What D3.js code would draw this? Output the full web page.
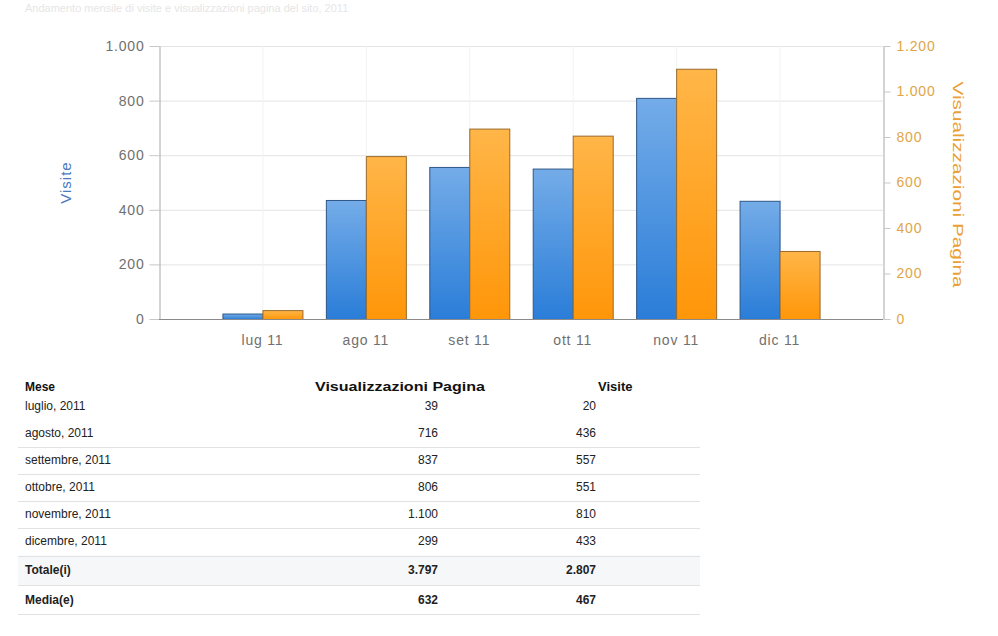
<!DOCTYPE html>
<html>
<head>
<meta charset="utf-8">
<script src="https://cdn.jsdelivr.net/npm/d3@7"></script>
<style>
  body { margin: 0; background: #fff; }
  svg { display: block; font-family: 'Liberation Sans', Arial, sans-serif; }
</style>
</head>
<body>
<div id="chart"></div>
<script>
const months = ['lug 11', 'ago 11', 'set 11', 'ott 11', 'nov 11', 'dic 11']
const monthNames = ['luglio, 2011', 'agosto, 2011', 'settembre, 2011', 'ottobre, 2011', 'novembre, 2011', 'dicembre, 2011']
const visite = [20, 436, 557, 551, 810, 433]
const pagine = [39, 716, 837, 806, 1100, 299]
const leftTicks = [0, 200, 400, 600, 800, 1000]
const rightTicks = [0, 200, 400, 600, 800, 1000, 1200]

const width = 998
const height = 636
const plot = { left: 159, right: 883, top: 46, bottom: 319 }
const blue = '#4a7cbf'
const orange = '#eaa034'

const it = d3.formatLocale({ decimal: ',', thousands: '.', grouping: [3], currency: ['€', ''] })
const fmt = it.format(',d')

const svg = d3.select('#chart').append('svg').attr('width', width).attr('height', height)

const defs = svg.append('defs')
function grad(id, top, bottom) {
  const g = defs.append('linearGradient').attr('id', id).attr('x1', 0).attr('y1', 0).attr('x2', 0).attr('y2', 1)
  g.append('stop').attr('offset', '0%').attr('stop-color', top)
  g.append('stop').attr('offset', '100%').attr('stop-color', bottom)
}
grad('gBlue', '#74ace8', '#2a7dd8')
grad('gOrange', '#ffb648', '#ff9609')

// faint page title
svg.append('text')
  .attr('x', 25).attr('y', 12)
  .attr('font-size', 11)
  .attr('fill', '#e6e6e6')
  .text('Andamento mensile di visite e visualizzazioni pagina del sito, 2011')

const x = d3.scalePoint().domain(months).range([plot.left, plot.right]).padding(1)
const yL = d3.scaleLinear().domain([0, 1000]).range([plot.bottom, plot.top])
const yR = d3.scaleLinear().domain([0, 1200]).range([plot.bottom, plot.top])

// grid
svg.append('g')
  .selectAll('line')
  .data(leftTicks.slice(1))
  .join('line')
  .attr('x1', plot.left).attr('x2', plot.right)
  .attr('y1', d => yL(d) + 0.5).attr('y2', d => yL(d) + 0.5)
  .attr('stroke', '#e3e3e3')

svg.append('g')
  .selectAll('line')
  .data(months)
  .join('line')
  .attr('x1', d => x(d) + 0.5).attr('x2', d => x(d) + 0.5)
  .attr('y1', plot.top).attr('y2', plot.bottom)
  .attr('stroke', '#f2f2f2')

// left axis
svg.append('g')
  .attr('transform', `translate(${plot.left + 0.5},0)`)
  .call(d3.axisLeft(yL).tickValues(leftTicks).tickFormat(fmt).tickSizeInner(10).tickSizeOuter(0).tickPadding(5))
  .call(g => g.select('.domain').attr('stroke', '#a8a8a8'))
  .call(g => g.selectAll('.tick line').attr('stroke', '#c8c8c8'))
  .call(g => g.selectAll('text').attr('fill', '#707070').attr('font-size', 14).attr('letter-spacing', 0.8).attr('font-family', null))

// right axis
svg.append('g')
  .attr('transform', `translate(${plot.right + 0.5},0)`)
  .call(d3.axisRight(yR).tickValues(rightTicks).tickFormat(fmt).tickSizeInner(7).tickSizeOuter(0).tickPadding(6))
  .call(g => g.select('.domain').attr('stroke', '#a8a8a8'))
  .call(g => g.selectAll('.tick line').attr('stroke', '#c8c8c8'))
  .call(g => g.selectAll('text').attr('fill', '#e0a548').attr('font-size', 14).attr('letter-spacing', 0.8).attr('font-family', null))

// bars
const barW = 40
const bars = svg.append('g')
bars.selectAll('.vis')
  .data(visite)
  .join('rect')
  .attr('class', 'vis')
  .attr('x', (d, i) => x(months[i]) - barW + 0.5)
  .attr('y', d => yL(d) + 0.5)
  .attr('width', barW)
  .attr('height', d => plot.bottom - yL(d))
  .attr('fill', 'url(#gBlue)')
  .attr('stroke', '#2d5687')

bars.selectAll('.pag')
  .data(pagine)
  .join('rect')
  .attr('class', 'pag')
  .attr('x', (d, i) => x(months[i]) + 0.5)
  .attr('y', d => yR(d) + 0.5)
  .attr('width', barW)
  .attr('height', d => plot.bottom - yR(d))
  .attr('fill', 'url(#gOrange)')
  .attr('stroke', '#9a6a2a')

// baseline + x labels
svg.append('line')
  .attr('x1', plot.left).attr('x2', plot.right)
  .attr('y1', plot.bottom + 0.5).attr('y2', plot.bottom + 0.5)
  .attr('stroke', '#8a8a8a')

svg.append('g')
  .selectAll('text')
  .data(months)
  .join('text')
  .attr('x', d => x(d))
  .attr('y', plot.bottom + 26)
  .attr('text-anchor', 'middle')
  .attr('font-size', 14)
  .attr('letter-spacing', 0.8)
  .attr('fill', '#707070')
  .text(d => d)

// axis titles
svg.append('text')
  .attr('transform', `translate(71,${(plot.top + plot.bottom) / 2}) rotate(-90)`)
  .attr('text-anchor', 'middle')
  .attr('font-size', 15)
  .attr('letter-spacing', 1)
  .attr('fill', blue)
  .text('Visite')

svg.append('text')
  .attr('transform', `translate(953,${(plot.top + plot.bottom) / 2 + 2}) rotate(90)`)
  .attr('text-anchor', 'middle')
  .attr('font-size', 15)
  .attr('textLength', 206)
  .attr('lengthAdjust', 'spacingAndGlyphs')
  .attr('fill', orange)
  .text('Visualizzazioni Pagina')

// table
const colMese = 25
const colPag = 438
const colVis = 596
const tableLeft = 18
const tableRight = 700
const headY = 387
const rowY = [406, 433, 460, 487, 514, 541, 570, 600]

const totPag = d3.sum(pagine)
const totVis = d3.sum(visite)
const rows = monthNames.map((m, i) => ({ label: m, pag: pagine[i], vis: visite[i], bold: false }))
rows.push({ label: 'Totale(i)', pag: totPag, vis: totVis, bold: true })
rows.push({ label: 'Media(e)', pag: Math.floor(totPag / pagine.length), vis: Math.floor(totVis / visite.length), bold: true })

const table = svg.append('g').attr('font-size', 12).attr('fill', '#222')

table.append('rect')
  .attr('x', tableLeft).attr('y', (rowY[5] + rowY[6]) / 2)
  .attr('width', tableRight - tableLeft).attr('height', (rowY[7] - rowY[5]) / 2)
  .attr('fill', '#f5f7f9')

// separators from agosto/settembre down, plus one under the last row
const sepY = d3.range(1, rowY.length - 1).map(k => Math.round((rowY[k] + rowY[k + 1]) / 2))
sepY.push(614)
table.selectAll('.sep')
  .data(sepY)
  .join('line')
  .attr('class', 'sep')
  .attr('x1', tableLeft).attr('x2', tableRight)
  .attr('y1', d => d + 0.5).attr('y2', d => d + 0.5)
  .attr('stroke', '#e2e2e2')

const head = table.append('g').attr('font-weight', 'bold').attr('fill', '#111')
head.append('text').attr('x', colMese).attr('y', headY + 4).text('Mese')
head.append('text').attr('x', 315).attr('y', headY + 4)
  .attr('textLength', 170).attr('lengthAdjust', 'spacingAndGlyphs').attr('font-size', 13)
  .text('Visualizzazioni Pagina')
head.append('text').attr('x', 598).attr('y', headY + 4).attr('font-size', 13).text('Visite')

const rowG = table.selectAll('.row')
  .data(rows)
  .join('g')
  .attr('class', 'row')
  .attr('transform', (d, i) => `translate(0,${rowY[i] + 4})`)
  .attr('font-weight', d => (d.bold ? 'bold' : null))

rowG.append('text').attr('x', colMese).text(d => d.label)
rowG.append('text').attr('x', colPag).attr('text-anchor', 'end').text(d => fmt(d.pag))
rowG.append('text').attr('x', colVis).attr('text-anchor', 'end').text(d => fmt(d.vis))
</script>
</body>
</html>
